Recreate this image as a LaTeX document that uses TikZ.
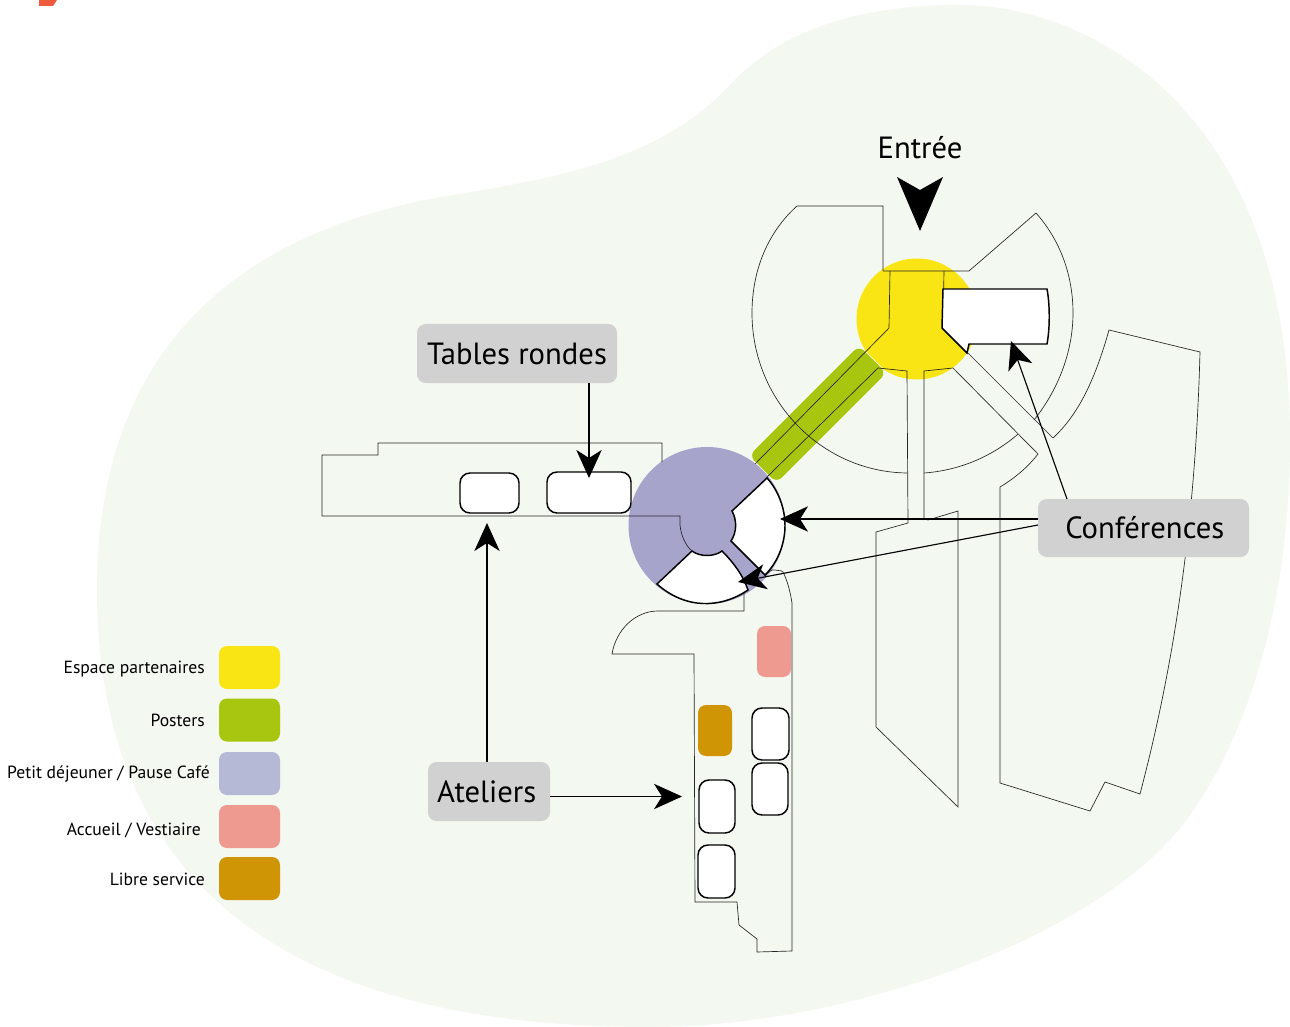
\documentclass[tikz,border=0pt]{standalone}
\usepackage{fontspec}
\setmainfont{PT Sans}
\usetikzlibrary{arrows.meta}
\definecolor{blob}{HTML}{F3F8F0}
\definecolor{cyellow}{HTML}{F9E513}
\definecolor{cgreen}{HTML}{A8C60F}
\definecolor{cblue}{HTML}{A7A4CC}
\definecolor{lblue}{HTML}{B5B9D6}
\definecolor{cpink}{HTML}{EE9A90}
\definecolor{corange}{HTML}{CF9504}
\definecolor{cgrey}{HTML}{D1D1D1}
\definecolor{cred}{HTML}{EE5A3C}
\tikzset{
 plan/.style={draw=black!85,line width=0.5pt,line join=miter},
 room/.style={draw=black,fill=white,line width=1.1pt,rounded corners=7.5pt},
 wedge/.style={draw=black,fill=white,line width=1.1pt},
 swatch/.style={rounded corners=6pt},
 callout/.style={fill=cgrey,rounded corners=6.5pt,inner sep=0pt,font=\fontsize{23}{27}\selectfont},
 legendtext/.style={anchor=east,inner sep=0pt,font=\fontsize{13.2}{15}\selectfont},
 conn/.style={draw=black,line width=0.85pt,-{Stealth[length=21pt,width=19pt,inset=6pt]}},
}
\begin{document}
\begin{tikzpicture}[x=0.75pt,y=-0.75pt]
\useasboundingbox (0,0) rectangle (1290,1027);
\fill[white] (0,0) rectangle (1290,1027);
\fill[cred] (39,0)--(57,0)--(53,6)--(39,6)--cycle;
% ground
\fill[blob] (960,5) .. controls (1090,5) and (1290,110) .. (1290,440)
 .. controls (1290,600) and (1250,730) .. (1190,815)
 .. controls (1110,930) and (860,1027) .. (650,1027)
 .. controls (400,1027) and (97,960) .. (97,590)
 .. controls (97,330) and (260,230) .. (440,197)
 .. controls (560,178) and (660,160) .. (730,85)
 .. controls (780,30) and (860,5) .. (960,5) -- cycle;
% yellow hall and posters
\fill[cyellow] (917,319) circle[radius=60.5];
\path[fill=cgreen,draw=white,line width=0.3pt,rounded corners=6pt]
 (859,345)--(887,373)--(776.5,483.5)--(748.5,455.5)--cycle;
\fill[cblue] (707,525.5) circle[radius=78.5];
% floor plans
\draw[plan] (883,271)--(883,206)--(797,206) .. controls (768,232) and (752,270) .. (752,313) .. controls (752,401) and (822,472) .. (907,473);
\draw[plan] (924,473) arc[start angle=86,end angle=49.2,radius=160.5];
\draw[plan] (883,271)--(969,271)--(1036,213) .. controls (1060,240) and (1073,275) .. (1073,313) .. controls (1073,352) and (1058,390) .. (1034,420);
\draw[plan] (890,271)--(889,328)--(755,464);
\draw[plan] (944,271)--(943,328)--(968,353)--(1053,438);
\draw[plan] (767,477)--(878,368)--(907,371)--(908,523)--(876,532)--(876,727)--(958,807)--(958,511)--(928,520)--(924,519)--(924,371)--(953,368)--(1038,454) .. controls (1028,467) and (1015,478) .. (1000,487)--(1000,783)--(1090,811)--(1105,782)--(1140,794) .. controls (1170,680) and (1195,540) .. (1200,352)--(1109,330) .. controls (1095,380) and (1078,415) .. (1053,438);
\draw[plan] (662,462)--(662,443)--(378,443)--(378,455)--(322,455)--(322,516)--(680,516)--(680,525) .. controls (681,535) and (685,545) .. (692,551);
\draw[plan] (744,593)--(744,611)--(658,611) .. controls (635,611) and (616,630) .. (612,654)--(694,654)--(695,902)--(737,902)--(739,925)--(757,939)--(757,952)--(792,951)--(792,603) .. controls (790,590) and (787,580) .. (783,572) .. controls (780,569) and (778,572) .. (775,570) .. controls (772,569) and (768,572) .. (765,576);
% white rooms
\draw[wedge] (943,289)--(1047,289) .. controls (1050,305) and (1050,328) .. (1047,344)--(969,344)--(967,353)--(942,328)--cycle;
\draw[wedge] (767,478)--(732,511) .. controls (737,520) and (737,532) .. (731,541)--(765,575) .. controls (779,561) and (785,542) .. (785,525.5) .. controls (785,508) and (778,490) .. (767,478)--cycle;
\draw[wedge] (657,584)--(692,551) .. controls (700,557) and (714,557) .. (722,551) .. controls (733,562) and (743,575) .. (748,590) .. controls (720,609) and (685,609) .. (657,584)--cycle;
\node[room,minimum width=44.25pt,minimum height=30pt] (r1) at (489.5,493) {};
\node[room,minimum width=63pt,minimum height=30.75pt] (r2) at (589,492.5) {};
\node[room,minimum width=27.75pt,minimum height=39pt] (r3) at (770.5,734) {};
\node[room,minimum width=27pt,minimum height=39pt] (r4) at (770,789) {};
\node[room,minimum width=27pt,minimum height=39.75pt] (r5) at (717,806.5) {};
\node[room,minimum width=27.75pt,minimum height=39.75pt] (r6) at (716.5,871.5) {};
\node[fill=cpink,swatch,minimum width=25.5pt,minimum height=38.25pt,inner sep=0pt] (accueil) at (774,651.5) {};
\node[fill=corange,swatch,minimum width=25.5pt,minimum height=38.25pt,inner sep=0pt] (libre) at (715,730.5) {};
% callouts
\node[callout,minimum width=150pt,minimum height=44.25pt] (tables) at (517,353.5) {Tables rondes};
\node[callout,minimum width=158.25pt,minimum height=43.5pt] (conf) at (1143.5,528) {\hspace*{2pt}Conférences};
\node[callout,minimum width=91.5pt,minimum height=44.25pt] (atel) at (489,791.5) {\hspace*{-3.5pt}Ateliers};
\node[inner sep=0pt,font=\fontsize{23}{27}\selectfont] (entree) at (920,148) {Entrée};
% connectors
\coordinate (ttip) at (589,478);
\coordinate (atip) at (487,523);
\coordinate (btip) at (682,796.5);
\coordinate (ctip) at (780,519);
\coordinate (dtip) at (738,582);
\coordinate (etip) at (1011,341);
\coordinate (ftip) at (920,231);
\draw[conn] (tables.south -| ttip)--(ttip);
\draw[conn] (atel.north -| atip)--(atip);
\draw[conn] (atel.east |- btip)--(btip);
\draw[conn] (conf.west |- ctip)--(ctip);
\draw[conn] (1038,525)--(dtip);
\draw[conn] (1067,499)--(etip);
\fill[black] (897,177)--(ftip)--(943,177)--(920,190)--cycle;
% legend
\node[fill=cyellow,swatch,minimum width=45.75pt,minimum height=32.25pt,inner sep=0pt] (s1) at (249.5,667.5) {};
\node[fill=cgreen,swatch,minimum width=45.75pt,minimum height=32.25pt,inner sep=0pt] (s2) at (249.5,720) {};
\node[fill=lblue,swatch,minimum width=45.75pt,minimum height=32.25pt,inner sep=0pt] (s3) at (249.5,773.5) {};
\node[fill=cpink,swatch,minimum width=45.75pt,minimum height=32.25pt,inner sep=0pt] (s4) at (249.5,826.5) {};
\node[fill=corange,swatch,minimum width=45.75pt,minimum height=32.25pt,inner sep=0pt] (s5) at (249.5,878.5) {};
\node[legendtext] (l1) at (205,669) {Espace partenaires};
\node[legendtext] (l2) at (205,720) {Posters};
\node[legendtext] (l3) at (210,774) {Petit déjeuner / Pause Café};
\node[legendtext] (l4) at (201,830) {Accueil / Vestiaire};
\node[legendtext] (l5) at (205,879) {Libre service};
\end{tikzpicture}
\end{document}
